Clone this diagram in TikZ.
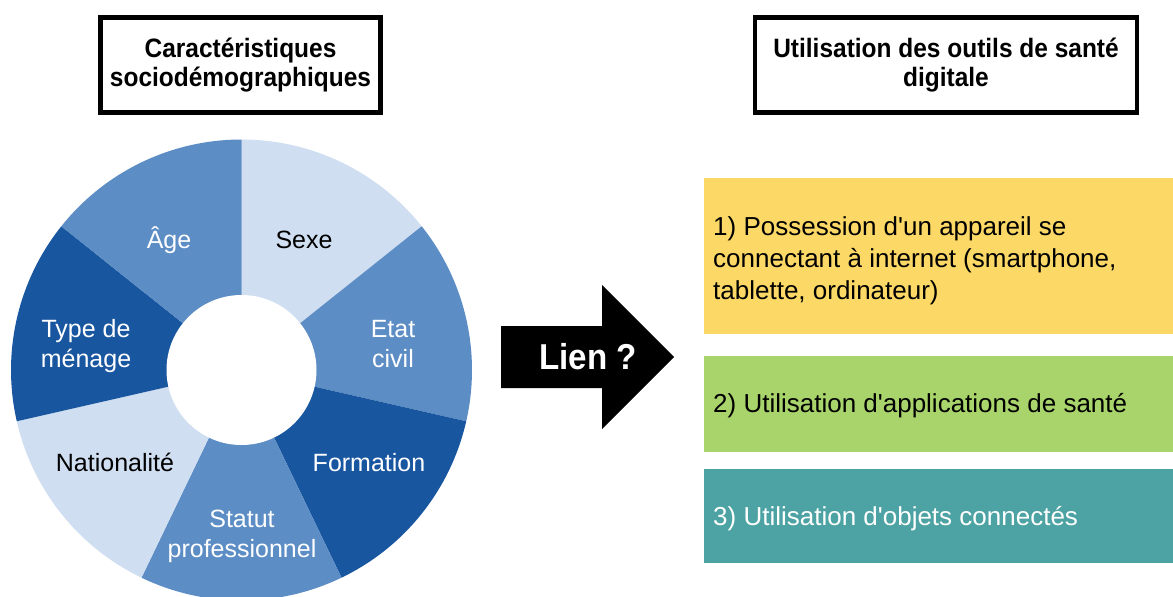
\documentclass[tikz,border=0pt]{standalone}
\usepackage{fontspec}
\setmainfont{Liberation Sans}
\newfontfamily\titlefont{Liberation Sans}[FakeStretch=0.92]
\usetikzlibrary{calc}
\definecolor{lightb}{HTML}{CFDEF0}
\definecolor{medb}{HTML}{5C8DC5}
\definecolor{darkb}{HTML}{1956A0}
\definecolor{yel}{HTML}{FCD966}
\definecolor{grn}{HTML}{A9D46B}
\definecolor{tealb}{HTML}{4DA3A3}
\begin{document}
\begin{tikzpicture}[x=1pt,y=1pt,
  titlebox/.style={draw=black,line width=4.5pt,minimum width=280pt,minimum height=95pt,inner sep=0pt,align=center,font=\titlefont\bfseries\fontsize{26.6}{29}\selectfont},
  seglabel/.style={font=\fontsize{25}{30}\selectfont,align=center,anchor=base,inner sep=0pt},
  boxtext/.style={font=\fontsize{26}{32}\selectfont,align=left,anchor=base west,inner sep=0pt},
  colbox/.style={minimum width=469pt,anchor=north west,inner sep=0pt,draw=none}]
\useasboundingbox (0,0) rectangle (1173,-597);
\fill[white] (0,0) rectangle (1173,-597);
% donut
\coordinate (C) at (241.5,-370);
\def\R{230.5}
\def\A{51.428571}
\foreach \i/\col in {0/lightb,1/medb,2/darkb,3/medb,4/lightb,5/darkb,6/medb}{
  \pgfmathsetmacro\aa{90-\i*\A}
  \pgfmathsetmacro\ab{90-(\i+1)*\A}
  \fill[\col] (C) -- ($(C)+(\aa:\R)$) arc[start angle=\aa,end angle=\ab,radius=\R] -- cycle;
}
\fill[white] (C) circle[radius=75];
% labels
\node[seglabel] (sexe) at (304,-248) {Sexe};
\node[seglabel,text=white] (age) at (169,-248) {Âge};
\node[seglabel,text=white] (etat) at (393,-367) {Etat\\civil};
\node[seglabel,text=white] (type) at (86,-367) {Type de\\ménage};
\node[seglabel] (nat) at (115,-471) {Nationalité};
\node[seglabel,text=white] (form) at (369,-471) {Formation};
\node[seglabel,text=white] (statut) at (242,-557) {Statut\\professionnel};
% titles
\node[titlebox] (t1) at (240.5,-65) {Caractéristiques\\sociodémographiques};
\node[titlebox,minimum width=382pt] (t2) at (946,-65) {Utilisation des outils de santé\\digitale};
% arrow
\fill[black] (501,-326) -- (602,-326) -- (602,-285) -- (674,-357) -- (602,-429) -- (602,-388) -- (501,-388) -- cycle;
\node[anchor=base,inner sep=0pt,text=white,font=\titlefont\bfseries\fontsize{36}{40}\selectfont] (lien) at (588,-369) {Lien ?};
% right boxes
\node[colbox,fill=yel,minimum height=156pt] (b1) at (704,-178) {};
\node[colbox,fill=grn,minimum height=96pt] (b2) at (704,-356) {};
\node[colbox,fill=tealb,minimum height=94pt] (b3) at (704,-469) {};
\node[boxtext] (x1) at (713,-299) {1) Possession d\textquotesingle un appareil se\\connectant à internet (smartphone,\\tablette, ordinateur)};
\node[boxtext] (x2) at (713,-412) {2) Utilisation d\textquotesingle applications de santé};
\node[boxtext,text=white] (x3) at (713,-525) {3) Utilisation d\textquotesingle objets connectés};
\end{tikzpicture}
\end{document}
